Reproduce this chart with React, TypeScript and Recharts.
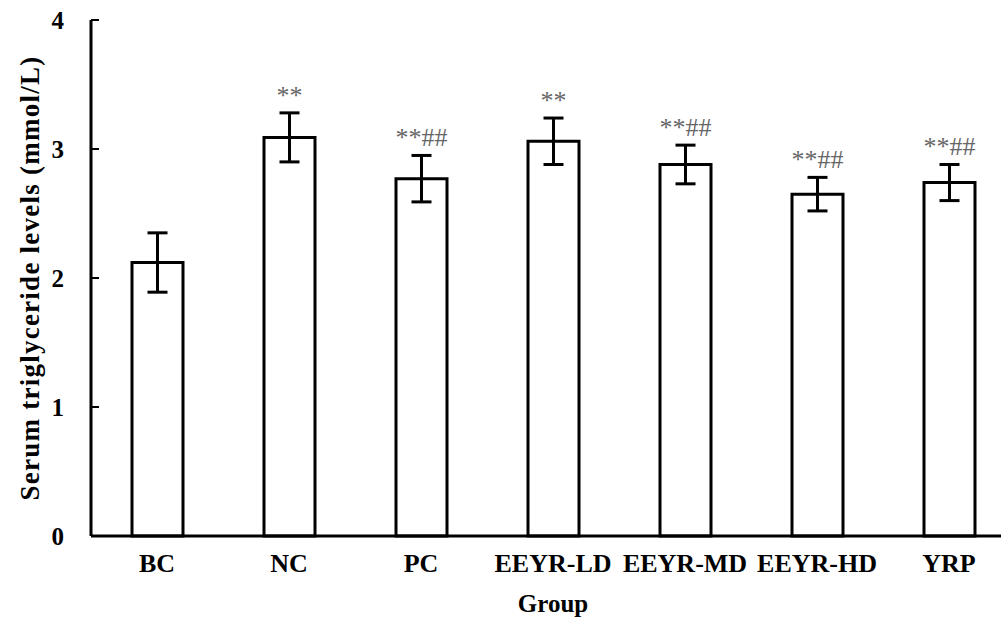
import { BarChart, Bar, XAxis, YAxis, ErrorBar, LabelList } from 'recharts';

const groups = ['BC', 'NC', 'PC', 'EEYR-LD', 'EEYR-MD', 'EEYR-HD', 'YRP'];
const means = [2.12, 3.09, 2.77, 3.06, 2.88, 2.65, 2.74];
const sds = [0.23, 0.19, 0.18, 0.18, 0.15, 0.13, 0.14];
const marks = ['', '**', '**##', '**', '**##', '**##', '**##'];
const yTicks = [0, 1, 2, 3, 4];

const data = groups.map((g, i) => ({ group: g, mean: means[i], sd: sds[i], mark: marks[i] }));

const serif = '"Liberation Serif", "Times New Roman", serif';
const AXIS_X = 91; // y axis sits at the right edge of its 91px area

// significance marks sit a little above the error bar cap
function renderMark(props: any) {
  const { x, y, width, height, index } = props;
  const label = marks[index];
  if (!label) return null;
  const perUnit = height / means[index];
  const top = y - sds[index] * perUnit;
  return (
    <text
      x={x + width / 2}
      y={top - 9}
      textAnchor="middle"
      fontFamily={serif}
      fontSize={26}
      fill="#666"
    >
      {label}
    </text>
  );
}

// y tick: small mark pointing into the plot, bold number further left
function YTick(props: any) {
  const { y, payload } = props;
  return (
    <g>
      <line x1={AXIS_X} x2={AXIS_X + 8} y1={y} y2={y} stroke="#000" strokeWidth={2} />
      <text
        x={AXIS_X - 27}
        y={y}
        dy={9}
        textAnchor="end"
        fontFamily={serif}
        fontSize={25}
        fontWeight="bold"
        fill="#000"
      >
        {payload.value}
      </text>
    </g>
  );
}

export default function App() {
  return (
    <div
      style={{
        position: 'absolute',
        left: 0,
        top: 0,
        width: 1001,
        height: 620,
        overflow: 'hidden',
        background: '#fff',
      }}
    >
      <BarChart width={1020} height={620} data={data} margin={{ top: 20, right: 5, left: 0, bottom: 0 }}>
        <XAxis
          dataKey="group"
          height={84}
          tickLine={false}
          tickSize={0}
          tickMargin={18}
          axisLine={{ stroke: '#000', strokeWidth: 3 }}
          tick={{ fill: '#000', fontSize: 26, fontWeight: 'bold', fontFamily: serif }}
          interval={0}
          label={{
            value: 'Group',
            position: 'insideBottom',
            offset: 8,
            fill: '#000',
            fontSize: 25,
            fontWeight: 'bold',
            fontFamily: serif,
          }}
        />
        <YAxis
          width={AXIS_X}
          domain={[0, 4]}
          ticks={yTicks}
          tickLine={false}
          axisLine={{ stroke: '#000', strokeWidth: 3 }}
          tick={<YTick />}
          label={{
            value: 'Serum triglyceride levels (mmol/L)',
            angle: -90,
            position: 'insideLeft',
            offset: 29,
            fill: '#000',
            fontSize: 27,
            fontWeight: 'bold',
            fontFamily: serif,
            style: { textAnchor: 'middle', letterSpacing: 1.25 },
          }}
        />
        <Bar dataKey="mean" barSize={51} fill="#fff" stroke="#000" strokeWidth={3} isAnimationActive={false}>
          <ErrorBar dataKey="sd" width={10} stroke="#000" strokeWidth={3} direction="y" isAnimationActive={false} />
          <LabelList dataKey="mark" content={renderMark} />
        </Bar>
      </BarChart>
    </div>
  );
}
